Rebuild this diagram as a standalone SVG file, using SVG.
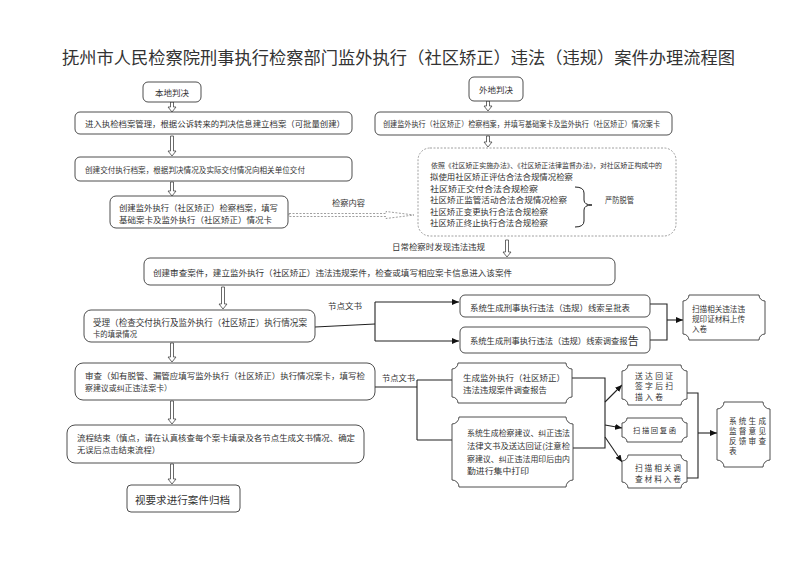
<svg xmlns="http://www.w3.org/2000/svg" width="800" height="571" viewBox="0 0 800 571">
<style>
.t{font-family:"Noto Sans CJK SC","Noto Sans",sans-serif;fill:#333;dominant-baseline:central}
.b{fill:#fff;stroke:#3a3a3a;stroke-width:0.9}
.d{fill:#fff;stroke:#888;stroke-width:0.8;stroke-dasharray:2 1.5}
.ha{fill:#fff;stroke:#444;stroke-width:0.8}
.ln{fill:none;stroke:#222;stroke-width:1.1}
</style>
<defs>
<marker id="ah" markerUnits="userSpaceOnUse" markerWidth="7" markerHeight="6" refX="7" refY="3" orient="auto"><path d="M0,0 L7,3 L0,6 Z" fill="#111"/></marker>
</defs>
<rect width="800" height="571" fill="#fff"/>
<text class="t" x="62" y="57" font-size="16.5" textLength="673" lengthAdjust="spacingAndGlyphs">抚州市人民检察院刑事执行检察部门监外执行（社区矫正）违法（违规）案件办理流程图</text>

<g id="connectors">
<path class="ha" d="M170.5,102 H173.5 V107 H176 L172,112 L168,107 H170.5 Z"/>
<path class="ha" d="M170.5,136 H173.5 V151 H176 L172,156 L168,151 H170.5 Z"/>
<path class="ha" d="M170.5,182 H173.5 V191 H176 L172,196 L168,191 H170.5 Z"/>
<path class="ha" d="M486.5,101 H489.5 V106 H492 L488,111 L484,106 H486.5 Z"/>
<path class="ha" d="M486.5,136 H489.5 V142 H492 L488,147 L484,142 H486.5 Z"/>
<path class="ha" d="M505.5,240 H508.5 V252 H511 L507,257 L503,252 H505.5 Z"/>
<path class="ha" d="M221.5,287 H224.5 V304 H227 L223,309 L219,304 H221.5 Z"/>
<path class="ha" d="M170.5,343 H173.5 V357 H176 L172,362 L168,357 H170.5 Z"/>
<path class="ha" d="M170.5,401 H173.5 V419 H176 L172,424 L168,419 H170.5 Z"/>
<path class="ha" d="M170.5,464 H173.5 V479 H176 L172,484 L168,479 H170.5 Z"/>
<path class="d" d="M289,213.5 H386 V211.5 L414,215 L386,218.5 V216.5 H289 Z"/>
<path class="ln" d="M315,327 L375,324"/>
<path class="ln" d="M375,302 V341"/>
<path class="ln" d="M375,302 H459" marker-end="url(#ah)"/>
<path class="ln" d="M375,341 H459" marker-end="url(#ah)"/>
<path class="ln" d="M650,304 H667 V340 H650"/>
<path class="ln" d="M667,320 H683" marker-end="url(#ah)"/>
<path class="ln" d="M375,387 H417"/>
<path class="ln" d="M417,380 V440"/>
<path class="ln" d="M417,380 H452"/>
<path class="ln" d="M417,440 H452"/>
<path class="ln" d="M572,378 H605 V448 H573"/>
<path class="ln" d="M605,402 L622,385" marker-end="url(#ah)"/>
<path class="ln" d="M605,425 L622,428" marker-end="url(#ah)"/>
<path class="ln" d="M605,437 L622,462" marker-end="url(#ah)"/>
<path class="ln" d="M687,393 H698 V478 H687"/>
<path class="ln" d="M698,433 H717" marker-end="url(#ah)"/>
</g>

<g id="n-local">
<rect class="b" x="143" y="82" width="58" height="20" rx="5"/>
<text class="t" x="172" y="92" font-size="8.5" text-anchor="middle">本地判决</text>
</g>
<g id="n-enter">
<rect class="b" x="75" y="112" width="277" height="22" rx="5"/>
<text class="t" x="85" y="123" font-size="8.3" textLength="260" lengthAdjust="spacingAndGlyphs">进入执检档案管理，根据公诉转来的判决信息建立档案（可批量创建）</text>
</g>
<g id="n-deliver">
<rect class="b" x="75" y="157" width="277" height="24" rx="5"/>
<text class="t" x="85" y="169" font-size="8" textLength="220" lengthAdjust="spacingAndGlyphs">创建交付执行档案，根据判决情况及实际交付情况向相关单位交付</text>
</g>
<g id="n-create1">
<rect class="b" x="110" y="196" width="178" height="32" rx="6"/>
<text class="t" x="119" y="207" font-size="8.3" textLength="159" lengthAdjust="spacingAndGlyphs">创建监外执行（社区矫正）检察档案，填写</text>
<text class="t" x="119" y="218.5" font-size="8.3" textLength="153" lengthAdjust="spacingAndGlyphs">基础案卡及监外执行（社区矫正）情况卡</text>
</g>
<text class="t" x="332" y="202" font-size="8.3" textLength="33" lengthAdjust="spacingAndGlyphs">检察内容</text>
<g id="n-remote">
<rect class="b" x="469" y="77" width="54" height="24" rx="5"/>
<text class="t" x="496" y="89" font-size="8.5" text-anchor="middle">外地判决</text>
</g>
<g id="n-create2">
<rect class="b" x="375" y="112" width="297" height="23" rx="5"/>
<text class="t" x="383" y="123.5" font-size="7.5" textLength="277" lengthAdjust="spacingAndGlyphs">创建监外执行（社区矫正）检察档案，并填写基础案卡及监外执行（社区矫正）情况案卡</text>
</g>
<g id="n-content">
<rect class="d" x="418" y="148" width="258" height="88" rx="12"/>
<text class="t" x="431" y="165" font-size="6.8" textLength="231" lengthAdjust="spacingAndGlyphs">依照《社区矫正实施办法》、《社区矫正法律监督办法》，对社区矫正构成中的</text>
<text class="t" x="430" y="176" font-size="8.3" textLength="143" lengthAdjust="spacingAndGlyphs">拟使用社区矫正评估合法合规情况检察</text>
<text class="t" x="430" y="187.5" font-size="8.3" textLength="108" lengthAdjust="spacingAndGlyphs">社区矫正交付合法合规检察</text>
<text class="t" x="430" y="199" font-size="8.3" textLength="137" lengthAdjust="spacingAndGlyphs">社区矫正监管活动合法合规情况检察</text>
<text class="t" x="430" y="210.5" font-size="8.3" textLength="118" lengthAdjust="spacingAndGlyphs">社区矫正变更执行合法合规检察</text>
<text class="t" x="430" y="222" font-size="8.3" textLength="118" lengthAdjust="spacingAndGlyphs">社区矫正终止执行合法合规检察</text>
<path d="M575,187 Q584,187 584,193 V200 Q584,205 592,205 Q584,205 584,210 V221 Q584,227 575,227" fill="none" stroke="#222" stroke-width="1"/>
<text class="t" x="605" y="199" font-size="8.3" textLength="29" lengthAdjust="spacingAndGlyphs">严防脱管</text>
</g>
<text class="t" x="392" y="246" font-size="8.4" textLength="93" lengthAdjust="spacingAndGlyphs">日常检察时发现违法违规</text>
<g id="n-case">
<rect class="b" x="144" y="258" width="471" height="27" rx="6"/>
<text class="t" x="153" y="272" font-size="8.5" textLength="359" lengthAdjust="spacingAndGlyphs">创建审查案件，建立监外执行（社区矫正）违法违规案件，检查或填写相应案卡信息进入该案件</text>
</g>
<g id="n-accept">
<rect class="b" x="84" y="310" width="231" height="32" rx="7"/>
<text class="t" x="93" y="322" font-size="8.6" textLength="214" lengthAdjust="spacingAndGlyphs">受理（检查交付执行及监外执行（社区矫正）执行情况案</text>
<text class="t" x="93" y="333.5" font-size="8" textLength="44" lengthAdjust="spacingAndGlyphs">卡的填录情况</text>
</g>
<text class="t" x="328" y="305" font-size="8.3" textLength="34" lengthAdjust="spacingAndGlyphs">节点文书</text>
<g id="n-clue1">
<rect class="b" x="460" y="295" width="190" height="22" rx="5"/>
<text class="t" x="470" y="306.5" font-size="8.3" textLength="160" lengthAdjust="spacingAndGlyphs">系统生成刑事执行违法（违规）线索呈批表</text>
</g>
<g id="n-clue2">
<rect class="b" x="460" y="327" width="190" height="26" rx="5"/>
<text class="t" x="470" y="340" font-size="8.3">系统生成刑事执行违法（违规）线索调查报<tspan font-size="11">告</tspan></text>
</g>
<g id="n-scan1">
<path class="b" d="M689,295 H759 A6,6 0 0 0 765,301 V334 A6,6 0 0 0 759,340 H689 A6,6 0 0 0 683,334 V301 A6,6 0 0 0 689,295 Z"/>
<text class="t" x="692" y="308" font-size="7.6" textLength="53" lengthAdjust="spacingAndGlyphs">扫描相关违法违</text>
<text class="t" x="692" y="318" font-size="7.6" textLength="53" lengthAdjust="spacingAndGlyphs">规印证材料上传</text>
<text class="t" x="692" y="328" font-size="7.6">入卷</text>
</g>
<g id="n-review">
<rect class="b" x="75" y="363" width="300" height="37" rx="8"/>
<text class="t" x="85" y="375" font-size="8.2" textLength="280" lengthAdjust="spacingAndGlyphs">审查（如有脱管、漏管应填写监外执行（社区矫正）执行情况案卡，填写检</text>
<text class="t" x="85" y="387" font-size="7.9" textLength="87" lengthAdjust="spacingAndGlyphs">察建议或纠正违法案卡）</text>
</g>
<text class="t" x="382" y="377" font-size="8.3" textLength="33" lengthAdjust="spacingAndGlyphs">节点文书</text>
<g id="n-report">
<path class="b" d="M458,363 H566 A6,6 0 0 0 572,369 V397 A6,6 0 0 0 566,403 H458 A6,6 0 0 0 452,397 V369 A6,6 0 0 0 458,363 Z"/>
<text class="t" x="463" y="377" font-size="8.4" textLength="102" lengthAdjust="spacingAndGlyphs">生成监外执行（社区矫正）</text>
<text class="t" x="463" y="388.5" font-size="8.4" textLength="84" lengthAdjust="spacingAndGlyphs">违法违规案件调查报告</text>
</g>
<g id="n-suggest">
<path class="b" d="M459,417 H566 A7,7 0 0 0 573,424 V480 A7,7 0 0 0 566,487 H459 A7,7 0 0 0 452,480 V424 A7,7 0 0 0 459,417 Z"/>
<text class="t" x="467" y="432" font-size="7.9" textLength="103" lengthAdjust="spacingAndGlyphs">系统生成检察建议、纠正违法</text>
<text class="t" x="467" y="445" font-size="7.9" textLength="103" lengthAdjust="spacingAndGlyphs">法律文书及送达回证(注意检</text>
<text class="t" x="467" y="458" font-size="7.9" textLength="103" lengthAdjust="spacingAndGlyphs">察建议、纠正违法用印后由内</text>
<text class="t" x="467" y="470.5" font-size="7.9" textLength="62" lengthAdjust="spacingAndGlyphs">勤进行集中打印</text>
</g>
<g id="n-receipt">
<path class="b" d="M628,365 H681 A6,6 0 0 0 687,371 V399 A6,6 0 0 0 681,405 H628 A6,6 0 0 0 622,399 V371 A6,6 0 0 0 628,365 Z"/>
<text class="t" x="635" y="375" font-size="7.8" textLength="38" lengthAdjust="spacing">送达回证</text>
<text class="t" x="635" y="385.5" font-size="7.8" textLength="38" lengthAdjust="spacing">签字后扫</text>
<text class="t" x="635" y="396.5" font-size="7.8" textLength="28" lengthAdjust="spacing">描入卷</text>
</g>
<g id="n-reply">
<path class="b" d="M627,418 H682 A5,5 0 0 0 687,423 V437 A5,5 0 0 0 682,442 H627 A5,5 0 0 0 622,437 V423 A5,5 0 0 0 627,418 Z"/>
<text class="t" x="633" y="430" font-size="7.3" textLength="43" lengthAdjust="spacing">扫描回复函</text>
</g>
<g id="n-material">
<path class="b" d="M628,455 H681 A6,6 0 0 0 687,461 V482 A6,6 0 0 0 681,488 H628 A6,6 0 0 0 622,482 V461 A6,6 0 0 0 628,455 Z"/>
<text class="t" x="635" y="467.5" font-size="7.7" textLength="46" lengthAdjust="spacing">扫描相关调</text>
<text class="t" x="635" y="478" font-size="7.7" textLength="46" lengthAdjust="spacing">查材料入卷</text>
</g>
<g id="n-feedback">
<path class="b" d="M724,402 H763 A7,7 0 0 0 770,409 V460 A7,7 0 0 0 763,467 H724 A7,7 0 0 0 717,460 V409 A7,7 0 0 0 724,402 Z"/>
<text class="t" x="729" y="420" font-size="7.6" textLength="37" lengthAdjust="spacing">系统生成</text>
<text class="t" x="729" y="430" font-size="7.6" textLength="37" lengthAdjust="spacing">监督意见</text>
<text class="t" x="729" y="440" font-size="7.6" textLength="37" lengthAdjust="spacing">反馈审查</text>
<text class="t" x="729" y="450" font-size="7.6">表</text>
</g>
<g id="n-end">
<rect class="b" x="67" y="425" width="297" height="38" rx="8"/>
<text class="t" x="77" y="437" font-size="8.4" textLength="278" lengthAdjust="spacingAndGlyphs">流程结束（慎点，请在认真核查每个案卡填录及各节点生成文书情况、确定</text>
<text class="t" x="77" y="448.5" font-size="8.3" textLength="83" lengthAdjust="spacingAndGlyphs">无误后点击结束流程）</text>
</g>
<g id="n-archive">
<rect class="b" x="127" y="485" width="113" height="27" rx="4"/>
<text class="t" x="135" y="499" font-size="10.5" textLength="95" lengthAdjust="spacingAndGlyphs">视要求进行案件归档</text>
</g>
</svg>
